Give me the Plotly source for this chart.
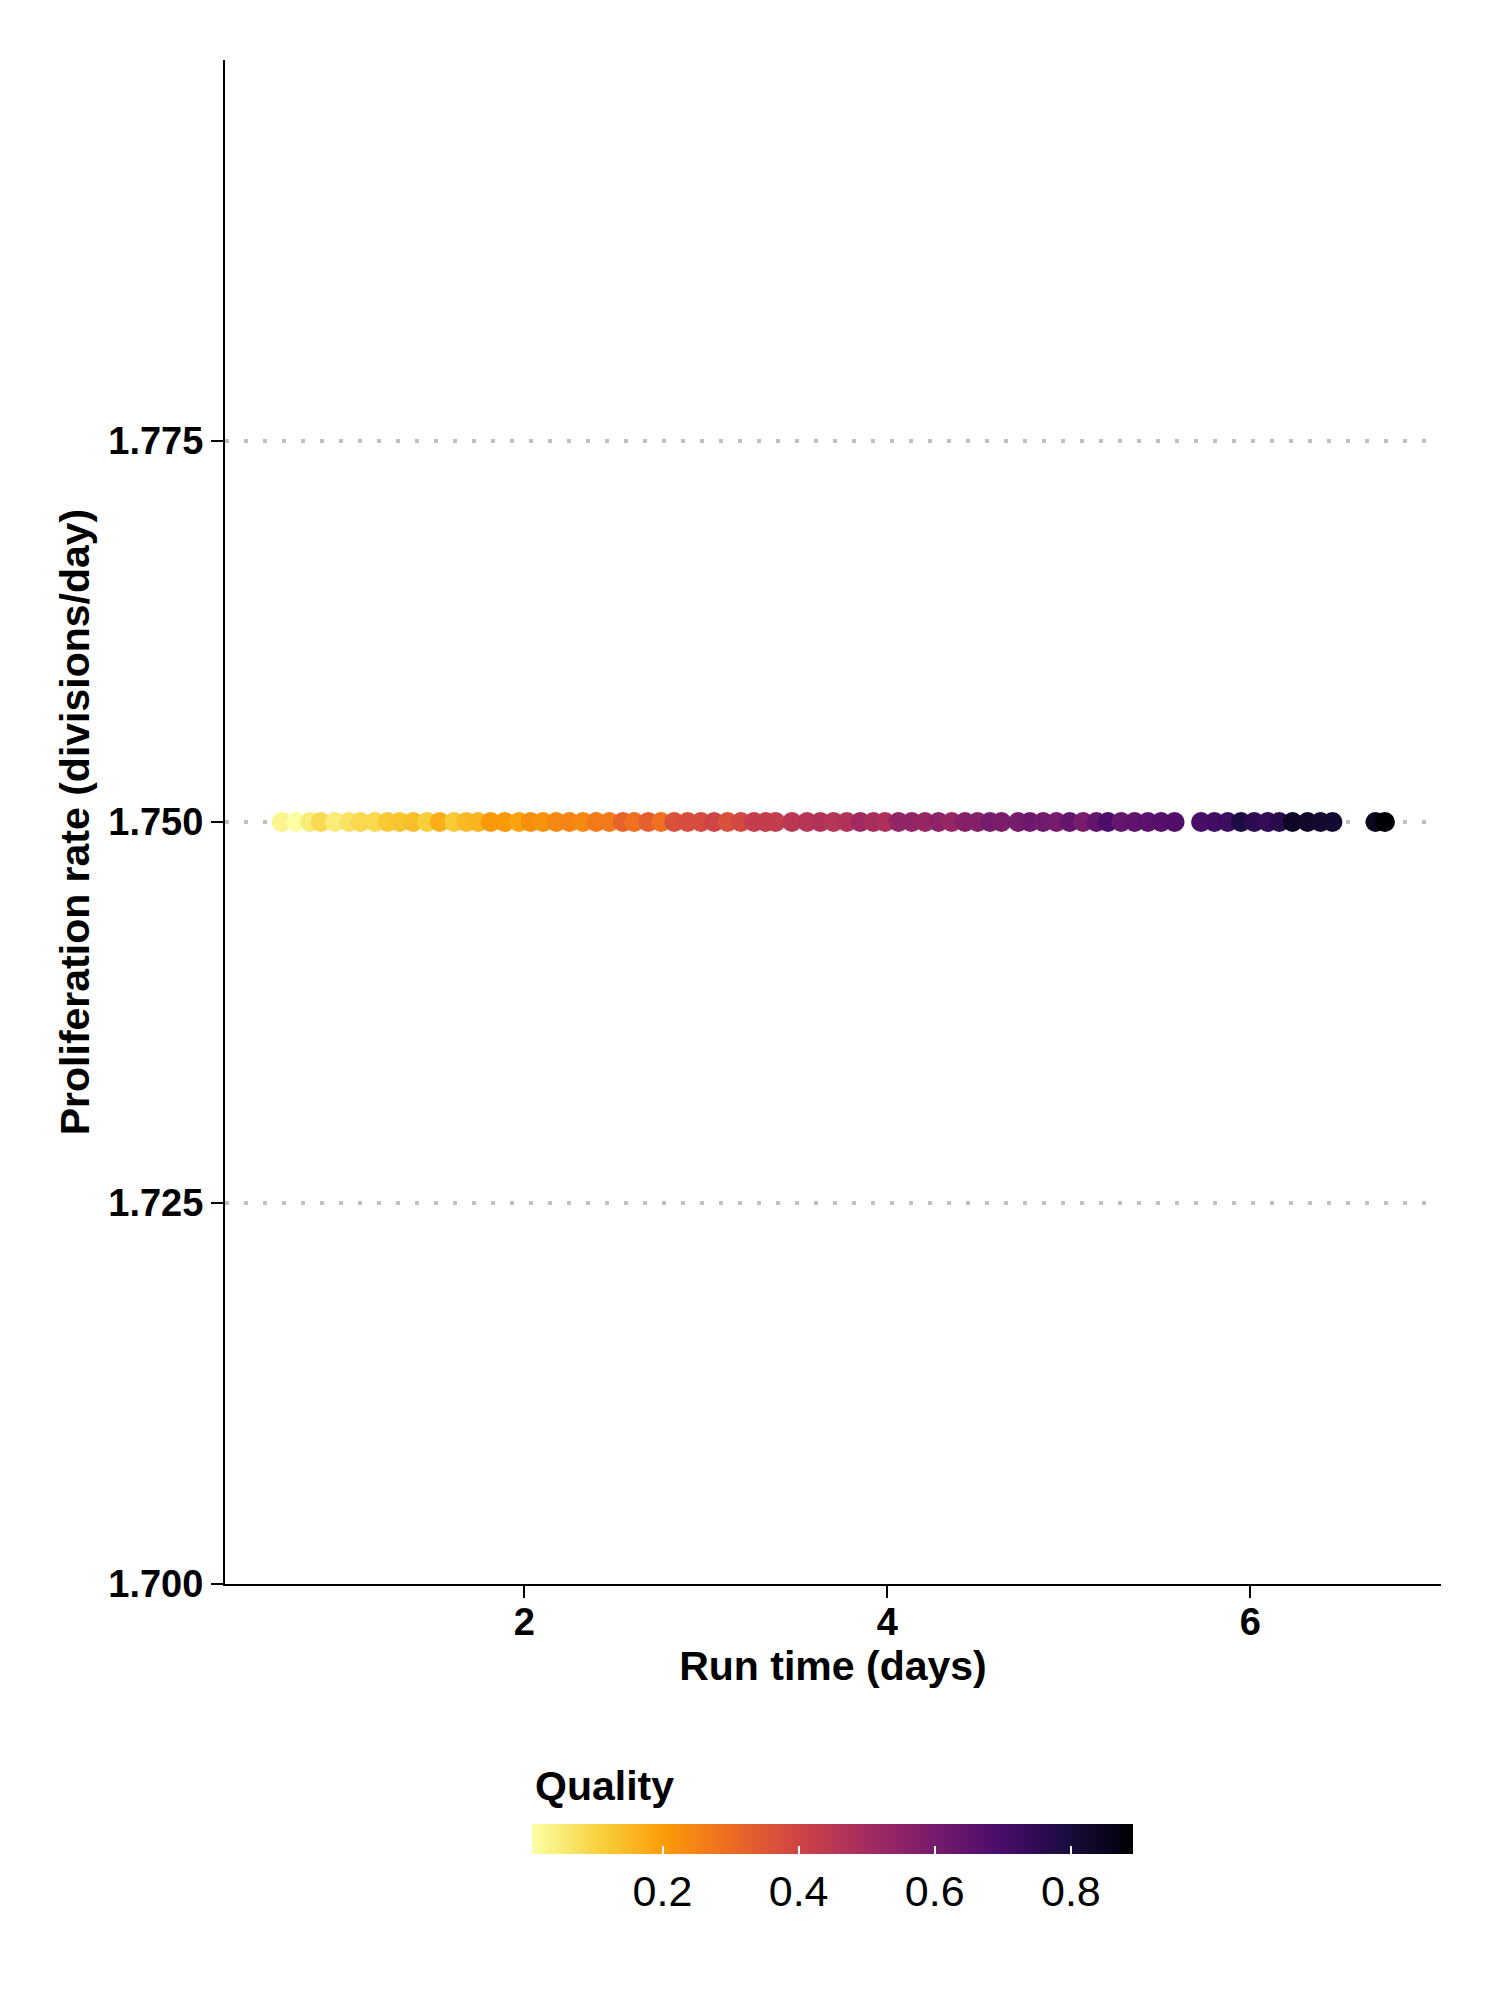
import plotly.graph_objects as go

# run time (days) for each simulation
run_time = [
    0.664, 0.743, 0.820, 0.879, 0.957, 1.034, 1.098, 1.177, 1.247, 1.314,
    1.388, 1.465, 1.534, 1.613, 1.681, 1.745, 1.815, 1.892, 1.971, 2.035,
    2.103, 2.176, 2.249, 2.323, 2.396, 2.469, 2.543, 2.606, 2.683, 2.753,
    2.826, 2.900, 2.973, 3.046, 3.120, 3.193, 3.266, 3.330, 3.385, 3.475,
    3.558, 3.631, 3.704, 3.777, 3.851, 3.924, 3.988, 4.062, 4.135, 4.208,
    4.282, 4.355, 4.428, 4.498, 4.566, 4.629, 4.721, 4.786, 4.859, 4.932,
    5.005, 5.079, 5.152, 5.216, 5.289, 5.363, 5.436, 5.509, 5.583, 5.729,
    5.803, 5.876, 5.949, 6.022, 6.096, 6.160, 6.233, 6.316, 6.387, 6.453,
    6.690, 6.742,
]

# quality (colour) of each point
quality = [
    0.03, 0.009, 0.05, 0.09, 0.05, 0.07, 0.09, 0.09, 0.12, 0.13,
    0.14, 0.11, 0.17, 0.12, 0.15, 0.16, 0.21, 0.21, 0.19, 0.23,
    0.22, 0.24, 0.25, 0.24, 0.27, 0.27, 0.32, 0.29, 0.33, 0.29,
    0.37, 0.38, 0.38, 0.40, 0.37, 0.39, 0.43, 0.43, 0.43, 0.45,
    0.46, 0.47, 0.46, 0.47, 0.51, 0.49, 0.48, 0.54, 0.54, 0.53,
    0.55, 0.53, 0.57, 0.57, 0.60, 0.59, 0.60, 0.62, 0.61, 0.60,
    0.64, 0.60, 0.64, 0.69, 0.64, 0.65, 0.66, 0.67, 0.68, 0.70,
    0.71, 0.72, 0.79, 0.76, 0.74, 0.77, 0.84, 0.83, 0.82, 0.82,
    0.85, 0.892,
]

# proliferation rate is the same for every run
prolif_rate = [1.75] * len(run_time)

y_ticks = [1.700, 1.725, 1.750, 1.775]
x_ticks = [2, 4, 6]
cbar_ticks = [0.2, 0.4, 0.6, 0.8]

FONT = "Arial, Liberation Sans, sans-serif"

fig = go.Figure()
fig.add_trace(go.Scatter(
    x=run_time,
    y=prolif_rate,
    mode="markers",
    marker=dict(
        size=20,
        color=quality,
        colorscale="Inferno_r",
        line=dict(width=0),
        colorbar=dict(
            orientation="h",
            tickvals=cbar_ticks,
            ticks="inside",
            ticklen=8,
            tickwidth=2,
            tickcolor="white",
            tickfont=dict(family=FONT, size=43, color="black"),
            thickness=30,
            lenmode="pixels",
            len=601,
            x=0.5,
            xanchor="center",
            y=-0.1575,
            yanchor="top",
            xpad=0,
            ypad=0,
            outlinewidth=0,
        ),
    ),
    showlegend=False,
))

# legend title sits left-aligned over the colour bar, like ggplot
fig.add_annotation(
    text="Quality", xref="paper", yref="paper",
    x=0.2529, y=-0.1325, xanchor="left", yanchor="middle",
    showarrow=False,
    font=dict(family=FONT, size=41, color="black", weight="bold"),
)

fig.update_xaxes(
    range=[0.351, 7.051],
    tickvals=x_ticks,
    showline=True, linecolor="black", linewidth=2,
    ticks="outside", ticklen=12, tickwidth=2, tickcolor="black",
    ticklabelstandoff=-9,
    showgrid=False, zeroline=False,
    tickfont=dict(family=FONT, size=38, color="black", weight="bold"),
    title=dict(text="Run time (days)", standoff=10,
               font=dict(family=FONT, size=41, color="black", weight="bold")),
)
fig.update_yaxes(
    range=[1.7, 1.8],
    tickvals=y_ticks,
    tickformat=".3f",
    showline=True, linecolor="black", linewidth=2,
    ticks="outside", ticklen=12, tickwidth=2, tickcolor="black",
    ticklabelstandoff=0,
    showgrid=True, gridcolor="#c0c0c0", gridwidth=4, griddash="4px,15px",
    zeroline=False,
    tickfont=dict(family=FONT, size=38, color="black", weight="bold"),
    title=dict(text="Proliferation rate (divisions/day)", standoff=6,
               font=dict(family=FONT, size=41, color="black", weight="bold")),
)

fig.update_layout(
    width=1500,
    height=2000,
    margin=dict(l=217, r=67, t=52, b=424),
    plot_bgcolor="white",
    paper_bgcolor="white",
)

fig.write_html("out.html")
